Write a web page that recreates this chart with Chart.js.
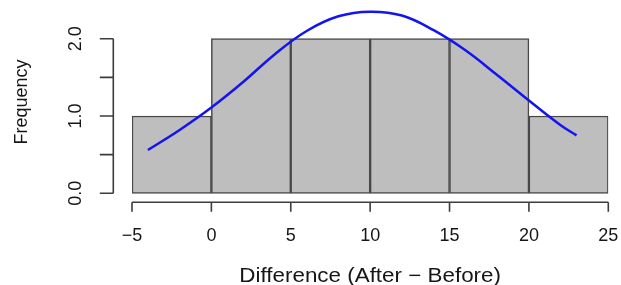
<!DOCTYPE html>
<html>
<head>
<meta charset="utf-8">
<script src="https://cdn.jsdelivr.net/npm/chart.js@4.4.1/dist/chart.umd.min.js"></script>
<style>
  html, body { margin: 0; padding: 0; background: #fff; }
  canvas { display: block; }
</style>
</head>
<body>
<canvas id="hist" width="621" height="285"></canvas>
<script>
// histogram bins (centres, width 5) and counts
const binCenters = [-2.5, 2.5, 7.5, 12.5, 17.5, 22.5];
const frequencies = [1, 2, 2, 2, 2, 1];

// fitted normal curve
const curveX = [-4, -2, 0, 2, 4, 6, 8, 10, 12, 14, 16, 18, 20, 22, 23];
const curveY = [0.56, 0.82, 1.11, 1.44, 1.80, 2.10, 2.29, 2.35, 2.30, 2.11, 1.85, 1.53, 1.20, 0.88, 0.75];

const xTicks = [-5, 0, 5, 10, 15, 20, 25];
const xTickLabels = ['\u22125', '0', '5', '10', '15', '20', '25'];
const yTicks = [0, 0.5, 1, 1.5, 2];
const yTickLabels = ['0.0', '', '1.0', '', '2.0'];

const xTitle = 'Difference (After \u2212 Before)';
const yTitle = 'Frequency';

const axisColor = '#3c3c3c';
const textColor = '#161616';
const fontFamily = '"Liberation Sans", Arial, Helvetica, sans-serif';

const rAxes = {
  id: 'rAxes',
  afterDraw(chart) {
    const { ctx, chartArea } = chart;
    const xs = chart.scales.x;
    const ys = chart.scales.y;
    const axisY = chartArea.bottom;
    const axisX = chartArea.left - 18.7;

    ctx.save();
    ctx.strokeStyle = axisColor;
    ctx.lineWidth = 1.6;
    ctx.fillStyle = textColor;

    // x axis
    ctx.beginPath();
    ctx.moveTo(xs.getPixelForValue(xTicks[0]), axisY);
    ctx.lineTo(xs.getPixelForValue(xTicks[xTicks.length - 1]), axisY);
    xTicks.forEach(v => {
      const px = xs.getPixelForValue(v);
      ctx.moveTo(px, axisY);
      ctx.lineTo(px, axisY + 9.5);
    });
    ctx.stroke();

    ctx.font = '18px ' + fontFamily;
    ctx.textAlign = 'center';
    ctx.textBaseline = 'alphabetic';
    xTicks.forEach((v, i) => {
      ctx.fillText(xTickLabels[i], xs.getPixelForValue(v), 241);
    });

    // y axis
    ctx.beginPath();
    ctx.moveTo(axisX, ys.getPixelForValue(yTicks[0]));
    ctx.lineTo(axisX, ys.getPixelForValue(yTicks[yTicks.length - 1]));
    yTicks.forEach(v => {
      const py = ys.getPixelForValue(v);
      ctx.moveTo(axisX, py);
      ctx.lineTo(axisX - 13.5, py);
    });
    ctx.stroke();

    yTicks.forEach((v, i) => {
      if (!yTickLabels[i]) return;
      ctx.save();
      ctx.translate(81, ys.getPixelForValue(v));
      ctx.rotate(-Math.PI / 2);
      ctx.fillText(yTickLabels[i], 0, 0);
      ctx.restore();
    });

    // axis titles
    ctx.save();
    ctx.translate(27, 102);
    ctx.rotate(-Math.PI / 2);
    ctx.fillText(yTitle, 0, 0);
    ctx.restore();

    ctx.save();
    ctx.font = '20px ' + fontFamily;
    ctx.translate(xs.getPixelForValue(10), 282);
    ctx.scale(1.12, 1);
    ctx.fillText(xTitle, 0, 0);
    ctx.restore();

    ctx.restore();
  }
};

new Chart(document.getElementById('hist'), {
  type: 'bar',
  data: {
    datasets: [
      {
        type: 'line',
        data: curveX.map((x, i) => ({ x: x, y: curveY[i] })),
        borderColor: '#1414f0',
        borderWidth: 2.5,
        pointRadius: 0,
        tension: 0.4,
        fill: false,
        order: 0,
      },
      {
        type: 'bar',
        data: binCenters.map((x, i) => ({ x: x, y: frequencies[i] })),
        backgroundColor: '#bebebe',
        borderColor: '#484848',
        borderWidth: 1.5,
        borderSkipped: false,
        barPercentage: 1,
        categoryPercentage: 1,
        order: 1,
      },
    ],
  },
  options: {
    responsive: false,
    animation: false,
    devicePixelRatio: 1,
    layout: { padding: { left: 132, right: 12.7, top: 5, bottom: 82.7 } },
    scales: {
      x: { type: 'linear', min: -5, max: 25, offset: false, display: false },
      y: { type: 'linear', min: -0.1164, max: 2.436, display: false },
    },
    plugins: {
      legend: { display: false },
      tooltip: { enabled: false },
    },
  },
  plugins: [rAxes],
});
</script>
</body>
</html>
